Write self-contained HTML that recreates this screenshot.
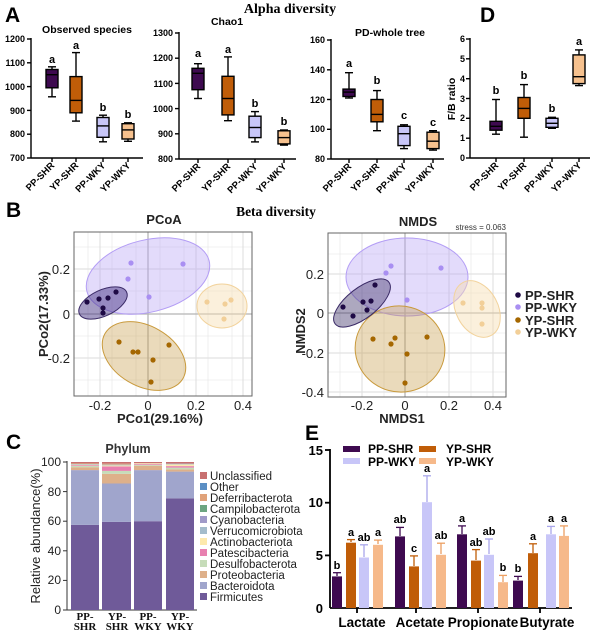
<!DOCTYPE html>
<html><head><meta charset="utf-8"><style>
html,body{margin:0;padding:0;background:#fff}
svg{display:block;font-family:"Liberation Sans",Arial,sans-serif}
.t{font-size:9px;font-weight:bold}
.xl{font-size:9.5px;font-weight:bold;text-anchor:end}
.bx{stroke:#000;stroke-width:1.4}
.w{stroke:#000;stroke-width:1.4;fill:none}
.lt{font-size:11px;font-weight:bold;text-anchor:middle}
.g{stroke:#ebebeb;stroke-width:0.8}
.gm{stroke:#e2e2e2;stroke-width:1.2}
.bt{font-size:13px;fill:#222}
.cl{font-size:11.5px;fill:#222}
.el{font-size:13.5px;font-weight:bold;text-anchor:middle}
</style></head><body>
<svg width="600" height="631" viewBox="0 0 600 631" xmlns="http://www.w3.org/2000/svg">
<text x="5" y="22" font-size="21" font-weight="bold">A</text>
<text x="290" y="13" font-size="14" font-weight="bold" font-family="Liberation Serif,serif" text-anchor="middle">Alpha diversity</text>
<text x="480" y="22" font-size="21" font-weight="bold">D</text>

<!-- Observed species -->
<text x="87" y="33" font-size="10.5" font-weight="bold" text-anchor="middle">Observed species</text>
<g class="w"><line x1="31" y1="38" x2="31" y2="158"/><line x1="31" y1="158" x2="143" y2="158"/>
<line x1="27" y1="39" x2="31" y2="39"/><line x1="27" y1="62.8" x2="31" y2="62.8"/><line x1="27" y1="86.6" x2="31" y2="86.6"/><line x1="27" y1="110.4" x2="31" y2="110.4"/><line x1="27" y1="134.2" x2="31" y2="134.2"/><line x1="27" y1="158" x2="31" y2="158"/>
<line x1="52" y1="158" x2="52" y2="162"/><line x1="76" y1="158" x2="76" y2="162"/><line x1="103" y1="158" x2="103" y2="162"/><line x1="128" y1="158" x2="128" y2="162"/></g>
<g class="t" text-anchor="end"><text x="25" y="42">1200</text><text x="25" y="66">1100</text><text x="25" y="90">1000</text><text x="25" y="114">900</text><text x="25" y="137">800</text><text x="25" y="161">700</text></g>
<g class="w"><line x1="52" y1="96.8" x2="52" y2="66.8"/><line x1="48" y1="96.8" x2="56" y2="96.8"/><line x1="48" y1="66.8" x2="56" y2="66.8"/>
<line x1="76" y1="121.1" x2="76" y2="52.6"/><line x1="72" y1="121.1" x2="80" y2="121.1"/><line x1="72" y1="52.6" x2="80" y2="52.6"/>
<line x1="103" y1="141.8" x2="103" y2="115.2"/><line x1="99" y1="141.8" x2="107" y2="141.8"/><line x1="99" y1="115.2" x2="107" y2="115.2"/>
<line x1="128" y1="141.3" x2="128" y2="122.8"/><line x1="124" y1="141.3" x2="132" y2="141.3"/><line x1="124" y1="122.8" x2="132" y2="122.8"/></g>
<rect class="bx" x="46" y="69.5" width="12" height="18.3" fill="#3e0a50"/>
<rect class="bx" x="70" y="76.6" width="12" height="36.2" fill="#c05d08"/>
<rect class="bx" x="97" y="117.5" width="12" height="19.8" fill="#c8c6f8"/>
<rect class="bx" x="122" y="123.7" width="12" height="15.3" fill="#f6c18e"/>
<g class="w"><line x1="46" y1="74.7" x2="58" y2="74.7"/><line x1="70" y1="100.4" x2="82" y2="100.4"/><line x1="97" y1="125.9" x2="109" y2="125.9"/><line x1="122" y1="129.9" x2="134" y2="129.9"/></g>
<g class="lt"><text x="52" y="63">a</text><text x="76" y="49">a</text><text x="103" y="111">b</text><text x="128" y="118">b</text></g>
<g class="xl"><text transform="translate(55,166) rotate(-45)">PP-SHR</text><text transform="translate(79,166) rotate(-45)">YP-SHR</text><text transform="translate(106,166) rotate(-45)">PP-WKY</text><text transform="translate(131,166) rotate(-45)">YP-WKY</text></g>

<!-- Chao1 -->
<text x="227" y="25" font-size="10.5" font-weight="bold" text-anchor="middle">Chao1</text>
<g class="w"><line x1="179" y1="32" x2="179" y2="159"/><line x1="179" y1="159" x2="296" y2="159"/>
<line x1="175" y1="33" x2="179" y2="33"/><line x1="175" y1="58.2" x2="179" y2="58.2"/><line x1="175" y1="83.4" x2="179" y2="83.4"/><line x1="175" y1="108.6" x2="179" y2="108.6"/><line x1="175" y1="133.8" x2="179" y2="133.8"/><line x1="175" y1="159" x2="179" y2="159"/>
<line x1="198" y1="159" x2="198" y2="163"/><line x1="228" y1="159" x2="228" y2="163"/><line x1="255" y1="159" x2="255" y2="163"/><line x1="284" y1="159" x2="284" y2="163"/></g>
<g class="t" text-anchor="end"><text x="173" y="36">1300</text><text x="173" y="61">1200</text><text x="173" y="87">1100</text><text x="173" y="112">1000</text><text x="173" y="137">900</text><text x="173" y="162">800</text></g>
<g class="w"><line x1="198" y1="98.5" x2="198" y2="63.7"/><line x1="194" y1="98.5" x2="202" y2="98.5"/><line x1="194" y1="63.7" x2="202" y2="63.7"/>
<line x1="228" y1="120.7" x2="228" y2="56.9"/><line x1="224" y1="120.7" x2="232" y2="120.7"/><line x1="224" y1="56.9" x2="232" y2="56.9"/>
<line x1="255" y1="141.9" x2="255" y2="111.6"/><line x1="251" y1="141.9" x2="259" y2="141.9"/><line x1="251" y1="111.6" x2="259" y2="111.6"/>
<line x1="284" y1="145.1" x2="284" y2="130"/><line x1="280" y1="145.1" x2="288" y2="145.1"/><line x1="280" y1="130" x2="288" y2="130"/></g>
<rect class="bx" x="192" y="68.3" width="12" height="21.4" fill="#3e0a50"/>
<rect class="bx" x="222" y="76.3" width="12" height="38.6" fill="#c05d08"/>
<rect class="bx" x="249" y="116.2" width="12" height="21.4" fill="#c8c6f8"/>
<rect class="bx" x="278" y="130.8" width="12" height="13.1" fill="#f6c18e"/>
<g class="w"><line x1="192" y1="73.3" x2="204" y2="73.3"/><line x1="222" y1="98.5" x2="234" y2="98.5"/><line x1="249" y1="127.5" x2="261" y2="127.5"/><line x1="278" y1="137.6" x2="290" y2="137.6"/></g>
<g class="lt"><text x="198" y="57">a</text><text x="228" y="53">a</text><text x="255" y="107">b</text><text x="284" y="125">b</text></g>
<g class="xl"><text transform="translate(201,167) rotate(-45)">PP-SHR</text><text transform="translate(231,167) rotate(-45)">YP-SHR</text><text transform="translate(258,167) rotate(-45)">PP-WKY</text><text transform="translate(287,167) rotate(-45)">YP-WKY</text></g>

<!-- PD whole tree -->
<text x="390" y="36" font-size="10.5" font-weight="bold" text-anchor="middle">PD-whole tree</text>
<g class="w"><line x1="331" y1="39" x2="331" y2="159"/><line x1="331" y1="159" x2="444" y2="159"/>
<line x1="327" y1="40" x2="331" y2="40"/><line x1="327" y1="69.8" x2="331" y2="69.8"/><line x1="327" y1="99.5" x2="331" y2="99.5"/><line x1="327" y1="129.3" x2="331" y2="129.3"/><line x1="327" y1="159" x2="331" y2="159"/>
<line x1="349" y1="159" x2="349" y2="163"/><line x1="377" y1="159" x2="377" y2="163"/><line x1="404" y1="159" x2="404" y2="163"/><line x1="433" y1="159" x2="433" y2="163"/></g>
<g class="t" text-anchor="end"><text x="325" y="43">160</text><text x="325" y="73">140</text><text x="325" y="103">120</text><text x="325" y="132">100</text><text x="325" y="162">80</text></g>
<g class="w"><line x1="349" y1="98" x2="349" y2="72.7"/><line x1="345" y1="98" x2="353" y2="98"/><line x1="345" y1="72.7" x2="353" y2="72.7"/>
<line x1="377" y1="130.7" x2="377" y2="90.6"/><line x1="373" y1="130.7" x2="381" y2="130.7"/><line x1="373" y1="90.6" x2="381" y2="90.6"/>
<line x1="404" y1="148.6" x2="404" y2="124.8"/><line x1="400" y1="148.6" x2="408" y2="148.6"/><line x1="400" y1="124.8" x2="408" y2="124.8"/>
<line x1="433" y1="150.1" x2="433" y2="130.7"/><line x1="429" y1="150.1" x2="437" y2="150.1"/><line x1="429" y1="130.7" x2="437" y2="130.7"/></g>
<rect class="bx" x="343" y="89.1" width="12" height="7.4" fill="#3e0a50"/>
<rect class="bx" x="371" y="99.5" width="12" height="22.3" fill="#c05d08"/>
<rect class="bx" x="398" y="126.3" width="12" height="19.3" fill="#c8c6f8"/>
<rect class="bx" x="427" y="132.2" width="12" height="16.4" fill="#f6c18e"/>
<g class="w"><line x1="343" y1="92.1" x2="355" y2="92.1"/><line x1="371" y1="114.4" x2="383" y2="114.4"/><line x1="398" y1="133.7" x2="410" y2="133.7"/><line x1="427" y1="141.2" x2="439" y2="141.2"/></g>
<g class="lt"><text x="349" y="67">a</text><text x="377" y="84">b</text><text x="404" y="119">c</text><text x="433" y="126">c</text></g>
<g class="xl"><text transform="translate(352,167) rotate(-45)">PP-SHR</text><text transform="translate(380,167) rotate(-45)">YP-SHR</text><text transform="translate(407,167) rotate(-45)">PP-WKY</text><text transform="translate(436,167) rotate(-45)">YP-WKY</text></g>

<!-- D F/B -->
<text transform="translate(455,99) rotate(-90)" font-size="10.5" font-weight="bold" text-anchor="middle">F/B ratio</text>
<g class="w"><line x1="470" y1="38" x2="470" y2="158"/><line x1="470" y1="158" x2="590" y2="158"/>
<line x1="466" y1="39" x2="470" y2="39"/><line x1="466" y1="58.8" x2="470" y2="58.8"/><line x1="466" y1="78.7" x2="470" y2="78.7"/><line x1="466" y1="98.5" x2="470" y2="98.5"/><line x1="466" y1="118.3" x2="470" y2="118.3"/><line x1="466" y1="138.2" x2="470" y2="138.2"/><line x1="466" y1="158" x2="470" y2="158"/>
<line x1="496" y1="158" x2="496" y2="162"/><line x1="524" y1="158" x2="524" y2="162"/><line x1="552" y1="158" x2="552" y2="162"/><line x1="579" y1="158" x2="579" y2="162"/></g>
<g class="t" text-anchor="end"><text x="465" y="42">6</text><text x="465" y="62">5</text><text x="465" y="82">4</text><text x="465" y="102">3</text><text x="465" y="121">2</text><text x="465" y="141">1</text><text x="465" y="161">0</text></g>
<g class="w"><line x1="496" y1="134.2" x2="496" y2="99.5"/><line x1="492" y1="134.2" x2="500" y2="134.2"/><line x1="492" y1="99.5" x2="500" y2="99.5"/>
<line x1="524" y1="137.2" x2="524" y2="84.6"/><line x1="520" y1="137.2" x2="528" y2="137.2"/><line x1="520" y1="84.6" x2="528" y2="84.6"/>
<line x1="552" y1="128.3" x2="552" y2="117.3"/><line x1="548" y1="128.3" x2="556" y2="128.3"/><line x1="548" y1="117.3" x2="556" y2="117.3"/>
<line x1="579" y1="85.6" x2="579" y2="49.9"/><line x1="575" y1="85.6" x2="583" y2="85.6"/><line x1="575" y1="49.9" x2="583" y2="49.9"/></g>
<rect class="bx" x="490" y="121.3" width="12" height="8.9" fill="#3e0a50"/>
<rect class="bx" x="518" y="97.5" width="12" height="20.8" fill="#c05d08"/>
<rect class="bx" x="546" y="118.3" width="12" height="9" fill="#c8c6f8"/>
<rect class="bx" x="573" y="54.9" width="12" height="28.7" fill="#f6c18e"/>
<g class="w"><line x1="490" y1="126.3" x2="502" y2="126.3"/><line x1="518" y1="108.4" x2="530" y2="108.4"/><line x1="546" y1="123.3" x2="558" y2="123.3"/><line x1="573" y1="76.7" x2="585" y2="76.7"/></g>
<g class="lt"><text x="496" y="94">b</text><text x="524" y="79">b</text><text x="552" y="112">b</text><text x="579" y="45">a</text></g>
<g class="xl"><text transform="translate(499,166) rotate(-45)">PP-SHR</text><text transform="translate(527,166) rotate(-45)">YP-SHR</text><text transform="translate(555,166) rotate(-45)">PP-WKY</text><text transform="translate(582,166) rotate(-45)">YP-WKY</text></g>

<!-- B -->
<text x="6" y="217" font-size="21" font-weight="bold">B</text>
<text x="276" y="216" font-size="13.5" font-weight="bold" font-family="Liberation Serif,serif" text-anchor="middle">Beta diversity</text>
<text x="164" y="224" font-size="13" font-weight="bold" fill="#222" text-anchor="middle">PCoA</text>
<text x="418" y="226" font-size="13" font-weight="bold" fill="#222" text-anchor="middle">NMDS</text>
<text x="506" y="230" font-size="8" fill="#333" text-anchor="end">stress = 0.063</text>

<g>
<rect x="74" y="232" width="178" height="164" fill="#fff"/>
<g class="g"><line x1="88" y1="232" x2="88" y2="396"/><line x1="112" y1="232" x2="112" y2="396"/><line x1="136" y1="232" x2="136" y2="396"/><line x1="160" y1="232" x2="160" y2="396"/><line x1="184" y1="232" x2="184" y2="396"/><line x1="208" y1="232" x2="208" y2="396"/><line x1="232" y1="232" x2="232" y2="396"/>
<line x1="74" y1="247" x2="252" y2="247"/><line x1="74" y1="291" x2="252" y2="291"/><line x1="74" y1="336" x2="252" y2="336"/><line x1="74" y1="380" x2="252" y2="380"/></g>
<g class="gm"><line x1="100" y1="232" x2="100" y2="396"/><line x1="196" y1="232" x2="196" y2="396"/><line x1="243" y1="232" x2="243" y2="396"/><line x1="74" y1="269" x2="252" y2="269"/><line x1="74" y1="358" x2="252" y2="358"/></g>
<line x1="148" y1="232" x2="148" y2="396" stroke="#b5b5b5" stroke-width="1.3"/>
<line x1="74" y1="314" x2="252" y2="314" stroke="#b5b5b5" stroke-width="1.3"/>
<ellipse cx="148" cy="276" rx="63" ry="36" transform="rotate(-14 148 276)" fill="#b9a6f4" fill-opacity="0.4" stroke="#b39df5" stroke-width="1"/>
<ellipse cx="222" cy="306" rx="25" ry="22" fill="#f6ddb2" fill-opacity="0.45" stroke="#f2d39d" stroke-width="1"/>
<ellipse cx="144" cy="356" rx="45" ry="30" transform="rotate(30 144 356)" fill="#c79d4c" fill-opacity="0.38" stroke="#c99a3c" stroke-width="1"/>
<ellipse cx="103" cy="303" rx="26" ry="13" transform="rotate(-25 103 303)" fill="#4a3888" fill-opacity="0.5" stroke="#3a2a66" stroke-width="1"/>
<g fill="#1e0a45"><circle cx="87" cy="302" r="2.6"/><circle cx="99" cy="299" r="2.6"/><circle cx="108" cy="298" r="2.6"/><circle cx="116" cy="292" r="2.6"/><circle cx="103" cy="308" r="2.6"/><circle cx="103" cy="313" r="2.6"/></g>
<g fill="#a98ff2"><circle cx="131" cy="263" r="2.6"/><circle cx="183" cy="264" r="2.6"/><circle cx="128" cy="279" r="2.6"/><circle cx="149" cy="297" r="2.6"/></g>
<g fill="#f2cf98"><circle cx="207" cy="302" r="2.6"/><circle cx="225" cy="304" r="2.6"/><circle cx="231" cy="300" r="2.6"/><circle cx="224" cy="319" r="2.6"/></g>
<g fill="#a56700"><circle cx="119" cy="342" r="2.6"/><circle cx="133" cy="352" r="2.6"/><circle cx="138" cy="352" r="2.6"/><circle cx="169" cy="345" r="2.6"/><circle cx="153" cy="360" r="2.6"/><circle cx="151" cy="382" r="2.6"/></g>
<rect x="74" y="232" width="178" height="164" fill="none" stroke="#666" stroke-width="1"/>
<g class="bt" text-anchor="end"><text x="70" y="274">0.2</text><text x="70" y="319">0</text><text x="70" y="363">-0.2</text></g>
<g class="bt" text-anchor="middle"><text x="100" y="410">-0.2</text><text x="148" y="410">0</text><text x="196" y="410">0.2</text><text x="243" y="410">0.4</text></g>
<text x="160" y="423" font-size="13" font-weight="bold" fill="#222" text-anchor="middle">PCo1(29.16%)</text>
<text transform="translate(48,314) rotate(-90)" font-size="13" font-weight="bold" fill="#222" text-anchor="middle">PCo2(17.33%)</text>
</g>

<g>
<rect x="328" y="233" width="178" height="164" fill="#fff"/>
<g class="g"><line x1="340" y1="233" x2="340" y2="397"/><line x1="384" y1="233" x2="384" y2="397"/><line x1="427" y1="233" x2="427" y2="397"/><line x1="471" y1="233" x2="471" y2="397"/>
<line x1="328" y1="254" x2="506" y2="254"/><line x1="328" y1="293" x2="506" y2="293"/><line x1="328" y1="333" x2="506" y2="333"/><line x1="328" y1="372" x2="506" y2="372"/></g>
<g class="gm"><line x1="362" y1="233" x2="362" y2="397"/><line x1="449" y1="233" x2="449" y2="397"/><line x1="493" y1="233" x2="493" y2="397"/><line x1="328" y1="274" x2="506" y2="274"/><line x1="328" y1="353" x2="506" y2="353"/><line x1="328" y1="392" x2="506" y2="392"/></g>
<line x1="405" y1="233" x2="405" y2="397" stroke="#b5b5b5" stroke-width="1.3"/>
<line x1="328" y1="313" x2="506" y2="313" stroke="#b5b5b5" stroke-width="1.3"/>
<ellipse cx="407" cy="277" rx="61" ry="39" fill="#b9a6f4" fill-opacity="0.4" stroke="#b39df5" stroke-width="1"/>
<ellipse cx="477" cy="309" rx="21" ry="30" transform="rotate(-28 477 309)" fill="#f6ddb2" fill-opacity="0.45" stroke="#f2d39d" stroke-width="1"/>
<ellipse cx="400" cy="349" rx="45" ry="43" transform="rotate(15 400 349)" fill="#c79d4c" fill-opacity="0.38" stroke="#c99a3c" stroke-width="1"/>
<ellipse cx="362" cy="303" rx="34" ry="15" transform="rotate(-38 362 303)" fill="#4a3f70" fill-opacity="0.45" stroke="#3a2a66" stroke-width="1"/>
<g fill="#1e0a45"><circle cx="343" cy="307" r="2.6"/><circle cx="353" cy="316" r="2.6"/><circle cx="363" cy="302" r="2.6"/><circle cx="371" cy="301" r="2.6"/><circle cx="367" cy="310" r="2.6"/><circle cx="375" cy="285" r="2.6"/></g>
<g fill="#a98ff2"><circle cx="386" cy="273" r="2.6"/><circle cx="391" cy="266" r="2.6"/><circle cx="441" cy="268" r="2.6"/><circle cx="407" cy="300" r="2.6"/></g>
<g fill="#f2cf98"><circle cx="463" cy="303" r="2.6"/><circle cx="482" cy="303" r="2.6"/><circle cx="482" cy="308" r="2.6"/><circle cx="482" cy="324" r="2.6"/></g>
<g fill="#a56700"><circle cx="373" cy="339" r="2.6"/><circle cx="391" cy="344" r="2.6"/><circle cx="395" cy="338" r="2.6"/><circle cx="427" cy="337" r="2.6"/><circle cx="407" cy="354" r="2.6"/><circle cx="405" cy="383" r="2.6"/></g>
<rect x="328" y="233" width="178" height="164" fill="none" stroke="#666" stroke-width="1"/>
<g class="bt" text-anchor="end"><text x="324" y="279">0.2</text><text x="324" y="318">0</text><text x="324" y="358">-0.2</text><text x="324" y="397">-0.4</text></g>
<g class="bt" text-anchor="middle"><text x="362" y="410">-0.2</text><text x="405" y="410">0</text><text x="449" y="410">0.2</text><text x="493" y="410">0.4</text></g>
<text x="402" y="423" font-size="13" font-weight="bold" fill="#222" text-anchor="middle">NMDS1</text>
<text transform="translate(305,331) rotate(-90)" font-size="13" font-weight="bold" fill="#222" text-anchor="middle">NMDS2</text>
<circle cx="518" cy="295" r="2.8" fill="#1e0a45"/><circle cx="518" cy="307" r="2.8" fill="#a98ff2"/><circle cx="518" cy="320" r="2.8" fill="#a56700"/><circle cx="518" cy="332" r="2.8" fill="#f2cf98"/>
<g font-size="13" font-weight="bold" fill="#222"><text x="525" y="300">PP-SHR</text><text x="525" y="312">PP-WKY</text><text x="525" y="325">YP-SHR</text><text x="525" y="337">YP-WKY</text></g>
</g>

<!-- C -->
<text x="6" y="449" font-size="21" font-weight="bold">C</text>
<text x="128" y="453" font-size="12.5" font-weight="bold" fill="#333" text-anchor="middle">Phylum</text>
<text transform="translate(40,536) rotate(-90)" font-size="13" fill="#222" text-anchor="middle">Relative abundance(%)</text>
<g stroke="#333" stroke-width="1"><line x1="67" y1="461" x2="67" y2="610"/><line x1="67" y1="610" x2="197" y2="610"/>
<line x1="63" y1="462" x2="67" y2="462"/><line x1="63" y1="491.6" x2="67" y2="491.6"/><line x1="63" y1="521.2" x2="67" y2="521.2"/><line x1="63" y1="550.8" x2="67" y2="550.8"/><line x1="63" y1="580.4" x2="67" y2="580.4"/><line x1="63" y1="610" x2="67" y2="610"/></g>
<g font-size="12" fill="#222" text-anchor="end"><text x="61" y="466">100</text><text x="61" y="496">80</text><text x="61" y="525">60</text><text x="61" y="555">40</text><text x="61" y="584">20</text><text x="61" y="614">0</text></g>
<rect x="71" y="524.9" width="28" height="85.1" fill="#6f5a99"/>
<rect x="71" y="470.1" width="28" height="54.8" fill="#a0a5cc"/>
<rect x="71" y="467.2" width="28" height="2.9" fill="#deb08a"/>
<rect x="71" y="466" width="28" height="1.2" fill="#c6dcb9"/>
<rect x="71" y="465.2" width="28" height="0.8" fill="#e880b0"/>
<rect x="71" y="464.6" width="28" height="0.6" fill="#fde9ad"/>
<rect x="71" y="464" width="28" height="0.6" fill="#a4bccb"/>
<rect x="71" y="463.4" width="28" height="0.6" fill="#e0a27a"/>
<rect x="71" y="462" width="28" height="1.4" fill="#c87070"/>
<rect x="102" y="521.9" width="29" height="88.1" fill="#6f5a99"/>
<rect x="102" y="483.5" width="29" height="38.4" fill="#a0a5cc"/>
<rect x="102" y="473.8" width="29" height="9.7" fill="#deb08a"/>
<rect x="102" y="470.9" width="29" height="2.9" fill="#c6dcb9"/>
<rect x="102" y="466.4" width="29" height="4.5" fill="#e880b0"/>
<rect x="102" y="465.4" width="29" height="1" fill="#fde9ad"/>
<rect x="102" y="464.6" width="29" height="0.8" fill="#a4bccb"/>
<rect x="102" y="463.6" width="29" height="1" fill="#e0a27a"/>
<rect x="102" y="462" width="29" height="1.6" fill="#c87070"/>
<rect x="134" y="521.2" width="28" height="88.8" fill="#6f5a99"/>
<rect x="134" y="470.1" width="28" height="51.1" fill="#a0a5cc"/>
<rect x="134" y="465.7" width="28" height="4.4" fill="#deb08a"/>
<rect x="134" y="464.7" width="28" height="1" fill="#c6dcb9"/>
<rect x="134" y="463.9" width="28" height="0.8" fill="#e880b0"/>
<rect x="134" y="463.2" width="28" height="0.7" fill="#fde9ad"/>
<rect x="134" y="462" width="28" height="1.2" fill="#c87070"/>
<rect x="166" y="498.3" width="28" height="111.7" fill="#6f5a99"/>
<rect x="166" y="471.6" width="28" height="26.7" fill="#a0a5cc"/>
<rect x="166" y="469.4" width="28" height="2.2" fill="#deb08a"/>
<rect x="166" y="467.6" width="28" height="1.8" fill="#c6dcb9"/>
<rect x="166" y="466.1" width="28" height="1.5" fill="#e880b0"/>
<rect x="166" y="464.4" width="28" height="1.7" fill="#fde9ad"/>
<rect x="166" y="463.6" width="28" height="0.8" fill="#a4bccb"/>
<rect x="166" y="462" width="28" height="1.6" fill="#c87070"/>
<g font-size="11" font-weight="bold" font-family="Liberation Serif,serif" text-anchor="middle" fill="#111">
<text x="85" y="620">PP-</text><text x="85" y="630">SHR</text><text x="117" y="620">YP-</text><text x="117" y="630">SHR</text>
<text x="148" y="620">PP-</text><text x="148" y="630">WKY</text><text x="180" y="620">YP-</text><text x="180" y="630">WKY</text></g>
<g>
<rect x="200" y="472" width="7" height="7" fill="#c87070"/>
<rect x="200" y="483" width="7" height="7" fill="#5b8fc4"/>
<rect x="200" y="494" width="7" height="7" fill="#e0a27a"/>
<rect x="200" y="505" width="7" height="7" fill="#6da581"/>
<rect x="200" y="516" width="7" height="7" fill="#a09ac8"/>
<rect x="200" y="527" width="7" height="7" fill="#a4bccb"/>
<rect x="200" y="538" width="7" height="7" fill="#fde9ad"/>
<rect x="200" y="549" width="7" height="7" fill="#e880b0"/>
<rect x="200" y="560" width="7" height="7" fill="#c6dcb9"/>
<rect x="200" y="571" width="7" height="7" fill="#deb08a"/>
<rect x="200" y="582" width="7" height="7" fill="#a0a5cc"/>
<rect x="200" y="593" width="7" height="7" fill="#6f5a99"/>
</g>
<g class="cl"><text x="210" y="480">Unclassified</text><text x="210" y="491">Other</text><text x="210" y="502">Deferribacterota</text><text x="210" y="513">Campilobacterota</text><text x="210" y="524">Cyanobacteria</text><text x="210" y="535">Verrucomicrobiota</text><text x="210" y="546">Actinobacteriota</text><text x="210" y="557">Patescibacteria</text><text x="210" y="568">Desulfobacterota</text><text x="210" y="579">Proteobacteria</text><text x="210" y="590">Bacteroidota</text><text x="210" y="601">Firmicutes</text></g>

<!-- E -->
<text x="305" y="440" font-size="21" font-weight="bold">E</text>
<g stroke="#000" stroke-width="1.8"><line x1="330" y1="449" x2="330" y2="608"/><line x1="330" y1="608" x2="572" y2="608"/>
<line x1="325" y1="450" x2="330" y2="450"/><line x1="325" y1="502.7" x2="330" y2="502.7"/><line x1="325" y1="555.4" x2="330" y2="555.4"/>
<line x1="357" y1="608" x2="357" y2="613"/><line x1="416" y1="608" x2="416" y2="613"/><line x1="478" y1="608" x2="478" y2="613"/><line x1="540" y1="608" x2="540" y2="613"/></g>
<g font-size="13" font-weight="bold" text-anchor="end"><text x="323" y="455">15</text><text x="323" y="507">10</text><text x="323" y="560">5</text><text x="323" y="613">0</text></g>
<rect x="343" y="446" width="17" height="6" fill="#3e0a50"/><rect x="343" y="458" width="17" height="6" fill="#c8c6f8"/>
<rect x="419" y="446" width="17" height="6" fill="#c05d08"/><rect x="419" y="458" width="17" height="6" fill="#f6b98a"/>
<g font-size="12" font-weight="bold"><text x="368" y="453">PP-SHR</text><text x="368" y="466">PP-WKY</text><text x="446" y="453">YP-SHR</text><text x="446" y="466">YP-WKY</text></g>
<g stroke-width="1.3">
<g stroke="#3e0a50"><line x1="337" y1="576" x2="337" y2="572.7"/><line x1="333" y1="572.7" x2="341" y2="572.7"/><line x1="400" y1="536" x2="400" y2="527.4"/><line x1="396" y1="527.4" x2="404" y2="527.4"/><line x1="462" y1="534" x2="462" y2="525.9"/><line x1="458" y1="525.9" x2="466" y2="525.9"/><line x1="518" y1="580" x2="518" y2="576.4"/><line x1="514" y1="576.4" x2="522" y2="576.4"/></g>
<g stroke="#c05d08"><line x1="351" y1="542" x2="351" y2="539.6"/><line x1="347" y1="539.6" x2="355" y2="539.6"/><line x1="414" y1="566" x2="414" y2="555.9"/><line x1="410" y1="555.9" x2="418" y2="555.9"/><line x1="476" y1="560" x2="476" y2="549.6"/><line x1="472" y1="549.6" x2="480" y2="549.6"/><line x1="533" y1="553" x2="533" y2="543.8"/><line x1="529" y1="543.8" x2="537" y2="543.8"/></g>
<g stroke="#a9a6ea"><line x1="364" y1="557" x2="364" y2="544.8"/><line x1="360" y1="544.8" x2="368" y2="544.8"/><line x1="427" y1="502" x2="427" y2="475.8"/><line x1="423" y1="475.8" x2="431" y2="475.8"/><line x1="489" y1="554" x2="489" y2="539"/><line x1="485" y1="539" x2="493" y2="539"/><line x1="551" y1="534" x2="551" y2="526.4"/><line x1="547" y1="526.4" x2="555" y2="526.4"/></g>
<g stroke="#ec9f62"><line x1="378" y1="544" x2="378" y2="540.1"/><line x1="374" y1="540.1" x2="382" y2="540.1"/><line x1="441" y1="554" x2="441" y2="543.2"/><line x1="437" y1="543.2" x2="445" y2="543.2"/><line x1="503" y1="582" x2="503" y2="575.4"/><line x1="499" y1="575.4" x2="507" y2="575.4"/><line x1="564" y1="536" x2="564" y2="525.9"/><line x1="560" y1="525.9" x2="568" y2="525.9"/></g>
</g>
<g fill="#3e0a50"><rect x="332" y="576.4" width="10" height="31.6"/><rect x="395" y="536.4" width="10" height="71.6"/><rect x="457" y="534.3" width="10" height="73.7"/><rect x="513" y="580.6" width="10" height="27.4"/></g>
<g fill="#c05d08"><rect x="346" y="542.7" width="10" height="65.3"/><rect x="409" y="566.4" width="10" height="41.6"/><rect x="471" y="560.6" width="10" height="47.4"/><rect x="528" y="553.2" width="10" height="54.8"/></g>
<g fill="#c8c6f8"><rect x="359" y="557.5" width="10" height="50.5"/><rect x="422" y="502.2" width="10" height="105.8"/><rect x="484" y="554.8" width="10" height="53.2"/><rect x="546" y="534.3" width="10" height="73.7"/></g>
<g fill="#f6b98a"><rect x="373" y="544.8" width="10" height="63.2"/><rect x="436" y="554.8" width="10" height="53.2"/><rect x="498" y="582.2" width="10" height="25.8"/><rect x="559" y="535.9" width="10" height="72.1"/></g>
<g class="lt" font-size="12">
<text x="337" y="569">b</text><text x="351" y="536">a</text><text x="364" y="541">ab</text><text x="378" y="536">a</text>
<text x="400" y="523">ab</text><text x="414" y="552">c</text><text x="427" y="472">a</text><text x="441" y="539">ab</text>
<text x="462" y="522">a</text><text x="476" y="546">ab</text><text x="489" y="535">ab</text><text x="503" y="571">b</text>
<text x="518" y="572">b</text><text x="533" y="540">a</text><text x="551" y="522">a</text><text x="564" y="522">a</text></g>
<g class="el"><text x="362" y="627">Lactate</text><text x="420" y="627">Acetate</text><text x="483" y="627">Propionate</text><text x="547" y="627">Butyrate</text></g>
</svg>
</body></html>
